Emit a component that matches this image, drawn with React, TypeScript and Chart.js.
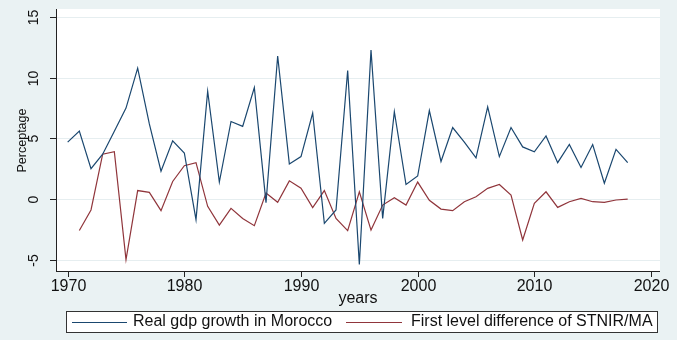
import React, { useEffect, useRef } from "react";
import { Chart, registerables } from "chart.js";

Chart.register(...registerables);

const gdpYears = [1970, 1971, 1972, 1973, 1974, 1975, 1976, 1977, 1978, 1979, 1980, 1981, 1982, 1983, 1984, 1985, 1986, 1987, 1988, 1989, 1990, 1991, 1992, 1993, 1994, 1995, 1996, 1997, 1998, 1999, 2000, 2001, 2002, 2003, 2004, 2005, 2006, 2007, 2008, 2009, 2010, 2011, 2012, 2013, 2014, 2015, 2016, 2017, 2018];
const gdpGrowth = [4.7, 5.6, 2.5, 3.7, 5.6, 7.5, 10.8, 6.2, 2.3, 4.8, 3.8, -1.7, 8.9, 1.4, 6.4, 6.0, 9.2, -0.3, 11.8, 2.9, 3.5, 7.1, -2.0, -0.9, 10.6, -5.4, 12.3, -1.6, 7.2, 1.2, 1.9, 7.3, 3.1, 5.9, 4.7, 3.4, 7.6, 3.5, 5.9, 4.3, 3.9, 5.2, 3.0, 4.5, 2.6, 4.5, 1.3, 4.1, 3.0];

const stnirYears = [1971, 1972, 1973, 1974, 1975, 1976, 1977, 1978, 1979, 1980, 1981, 1982, 1983, 1984, 1985, 1986, 1987, 1988, 1989, 1990, 1991, 1992, 1993, 1994, 1995, 1996, 1997, 1998, 1999, 2000, 2001, 2002, 2003, 2004, 2005, 2006, 2007, 2008, 2009, 2010, 2011, 2012, 2013, 2014, 2015, 2016, 2017, 2018];
const stnirDiff = [-2.6, -0.9, 3.7, 3.9, -5.0, 0.7, 0.55, -0.96, 1.45, 2.75, 3.0, -0.6, -2.15, -0.77, -1.6, -2.2, 0.5, -0.27, 1.5, 0.9, -0.7, 0.7, -1.6, -2.6, 0.6, -2.56, -0.5, 0.1, -0.5, 1.4, -0.1, -0.83, -0.96, -0.22, 0.19, 0.88, 1.2, 0.33, -3.38, -0.36, 0.6, -0.69, -0.22, 0.05, -0.22, -0.27, -0.08, 0.0];

const xTickValues = [1970, 1980, 1990, 2000, 2010, 2020];
const yTickValues = [-5, 0, 5, 10, 15];

const seriesNames = ["Real gdp growth in Morocco", "First level difference of STNIR/MA"];
const seriesColors = ["#1a476f", "#90353b"];

const BG = "#eaf2f3";
const FONT = '"Liberation Sans", Arial, sans-serif';

const framePlugin = {
  id: "stataFrame",
  beforeDraw(chart: any) {
    const { ctx, chartArea, width, height } = chart;
    const ys = chart.scales.y;
    ctx.save();
    ctx.fillStyle = BG;
    ctx.fillRect(0, 0, width, height);
    ctx.fillStyle = "#ffffff";
    ctx.fillRect(chartArea.left, chartArea.top, chartArea.right - chartArea.left, chartArea.bottom - chartArea.top);
    ctx.strokeStyle = "#e6eef0";
    ctx.lineWidth = 1;
    yTickValues.forEach((v) => {
      const y = Math.round(ys.getPixelForValue(v)) + 0.5;
      ctx.beginPath();
      ctx.moveTo(chartArea.left, y);
      ctx.lineTo(chartArea.right, y);
      ctx.stroke();
    });
    ctx.restore();
  },
  afterDraw(chart: any) {
    const { ctx, chartArea } = chart;
    const xs = chart.scales.x;
    const ys = chart.scales.y;
    ctx.save();
    ctx.strokeStyle = "#222";
    ctx.lineWidth = 1;
    // axes lines
    ctx.beginPath();
    ctx.moveTo(chartArea.left + 0.5, chartArea.top);
    ctx.lineTo(chartArea.left + 0.5, chartArea.bottom);
    ctx.moveTo(chartArea.left, chartArea.bottom - 0.5);
    ctx.lineTo(chartArea.right, chartArea.bottom - 0.5);
    ctx.stroke();
    ctx.fillStyle = "#111";
    // x ticks
    ctx.font = "16px " + FONT;
    ctx.textAlign = "center";
    ctx.textBaseline = "middle";
    xTickValues.forEach((v) => {
      const x = Math.round(xs.getPixelForValue(v)) + 0.5;
      ctx.beginPath();
      ctx.moveTo(x, chartArea.bottom);
      ctx.lineTo(x, chartArea.bottom + 5);
      ctx.stroke();
      ctx.fillText(String(v), x, 287);
    });
    ctx.fillText("years", (chartArea.left + chartArea.right) / 2, 299);
    // y ticks
    yTickValues.forEach((v) => {
      const y = Math.round(ys.getPixelForValue(v)) + 0.5;
      ctx.beginPath();
      ctx.moveTo(chartArea.left - 6, y);
      ctx.lineTo(chartArea.left, y);
      ctx.stroke();
      ctx.save();
      ctx.translate(34, y);
      ctx.rotate(-Math.PI / 2);
      ctx.font = "14px " + FONT;
      ctx.fillText(String(v), 0, 0);
      ctx.restore();
    });
    ctx.save();
    ctx.translate(23, (chartArea.top + chartArea.bottom) / 2);
    ctx.rotate(-Math.PI / 2);
    ctx.font = "12.5px " + FONT;
    ctx.fillText("Perceptage", 0, 0);
    ctx.restore();
    // legend
    ctx.fillStyle = "#ffffff";
    ctx.fillRect(66.5, 311.5, 591, 21);
    ctx.strokeStyle = "#333";
    ctx.strokeRect(66.5, 311.5, 591, 21);
    const ly = 322.5;
    ctx.lineWidth = 1;
    ctx.strokeStyle = seriesColors[0];
    ctx.beginPath();
    ctx.moveTo(72, ly);
    ctx.lineTo(127, ly);
    ctx.stroke();
    ctx.strokeStyle = seriesColors[1];
    ctx.beginPath();
    ctx.moveTo(346, ly);
    ctx.lineTo(402, ly);
    ctx.stroke();
    ctx.fillStyle = "#111";
    ctx.font = "16px " + FONT;
    ctx.textAlign = "left";
    ctx.fillText(seriesNames[0], 133, 322);
    ctx.fillText(seriesNames[1], 411, 322);
    ctx.restore();
  },
};

export default function App() {
  const ref = useRef<HTMLCanvasElement | null>(null);
  useEffect(() => {
    if (!ref.current) return;
    const chart = new Chart(ref.current, {
      type: "line",
      data: {
        datasets: [
          {
            label: seriesNames[0],
            data: gdpYears.map((yr, i) => ({ x: yr, y: gdpGrowth[i] })),
            borderColor: seriesColors[0],
            borderWidth: 1.2,
            pointRadius: 0,
            tension: 0,
            fill: false,
          },
          {
            label: seriesNames[1],
            data: stnirYears.map((yr, i) => ({ x: yr, y: stnirDiff[i] })),
            borderColor: seriesColors[1],
            borderWidth: 1.2,
            pointRadius: 0,
            tension: 0,
            fill: false,
          },
        ],
      },
      options: {
        responsive: false,
        animation: false,
        devicePixelRatio: 1,
        layout: { padding: { left: 56, right: 17, top: 9, bottom: 68 } },
        plugins: { legend: { display: false }, tooltip: { enabled: false } },
        scales: {
          x: { type: "linear", min: 1969, max: 2020.77, display: false },
          y: { type: "linear", min: -6.02, max: 15.68, display: false },
        },
      },
      plugins: [framePlugin],
    });
    return () => chart.destroy();
  }, []);
  return (
    <div style={{ position: "fixed", left: 0, top: 0, width: 677, height: 340, background: BG }}>
      <canvas ref={ref} width={677} height={340} style={{ display: "block", width: 677, height: 340 }} />
    </div>
  );
}
